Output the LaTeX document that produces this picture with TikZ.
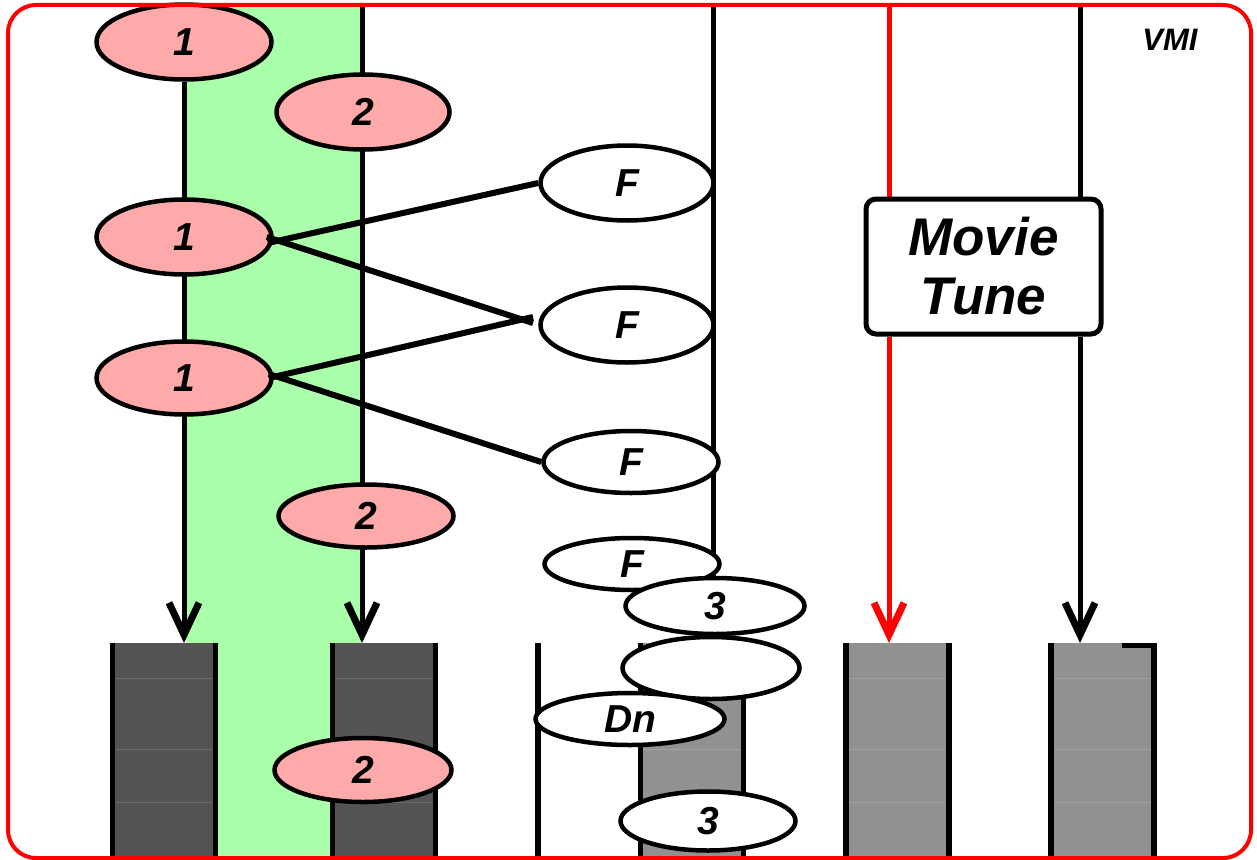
\documentclass[tikz,border=0pt]{standalone}
\usepackage{fontspec}
\setmainfont{Liberation Sans}
\usepackage{xcolor}
\usepackage{tikz}
\usetikzlibrary{positioning, arrows.meta, calc, shapes.geometric}

\definecolor{pinkfill}{HTML}{FFAAAA}
\definecolor{greenband}{HTML}{AAFFAA}
\definecolor{darkbar}{HTML}{545454}
\definecolor{lightbar}{HTML}{919191}

\pgfdeclarelayer{back}
\pgfdeclarelayer{mid}
\pgfsetlayers{back,mid,main}

\begin{document}
\begin{tikzpicture}[
    x=1pt, y=-1pt,
    labelfont/.style={font=\fontsize{39}{46}\selectfont\bfseries\itshape},
    pinknode/.style={ellipse, draw=black, line width=4.5pt, fill=pinkfill, inner sep=0pt, labelfont},
    whitenode/.style={ellipse, draw=black, line width=4.5pt, fill=white, inner sep=0pt, labelfont},
    barnode/.style={rectangle, inner sep=0pt, outer sep=0pt, minimum width=108pt, minimum height=216pt},
    boxnode/.style={rectangle, draw=black, line width=5pt, fill=white, rounded corners=10pt, minimum width=235pt, minimum height=135pt, align=center, font=\fontsize{53}{59}\selectfont\bfseries\itshape},
    edgeline/.style={line width=5.5pt},
    tickline/.style={draw=white, opacity=0.15, line width=1pt},
    flow/.style={line width=5pt, -{Straight Barb[length=32pt, width=30pt, line width=7pt]}},
    redflow/.style={flow, draw=red},
    link/.style={line width=6pt}
]
\useasboundingbox (0,0) rectangle (1257,859);

% green band and bars
\begin{pgfonlayer}{back}
\fill[greenband] (186,5) rectangle (361,859);
\node[barnode, fill=darkbar](barA) at (164,751){};
\node[barnode, fill=darkbar](barB) at (384,751){};
\node[barnode, fill=lightbar](barC) at (692,751){};
\node[barnode, fill=lightbar](barD) at (897.5,751){};
\node[barnode, fill=lightbar](barE) at (1102.5,751){};
\foreach \b in {barA,barB,barC,barD,barE}{
    \foreach \t in {35,106,159}
        \draw[tickline] ([yshift=-\t pt]\b.north west) -- ([yshift=-\t pt]\b.north east);
    \draw[edgeline] ([xshift=2.5pt]\b.north west) -- ([xshift=2.5pt]\b.south west);
    \draw[edgeline] ([xshift=-2.5pt]\b.north east) -- ([xshift=-2.5pt]\b.south east);
}
\draw[edgeline] (1122,645.5) -- ([yshift=-2.5pt]barE.north east);
\draw[edgeline] (538,643) -- (538,859);
\end{pgfonlayer}

% ellipses
\node[pinknode, minimum width=175pt, minimum height=75pt](one1) at (184,42){1};
\node[pinknode, minimum width=173pt, minimum height=75pt](two1) at (363,112){2};
\node[pinknode, minimum width=175pt, minimum height=75pt](one2) at (184,237){1};
\node[pinknode, minimum width=175pt, minimum height=73pt](one3) at (184,378){1};
\node[pinknode, minimum width=175pt, minimum height=63pt](two2) at (366,516){2};
\node[pinknode, minimum width=177pt, minimum height=64pt](two3) at (363,770){2};

\node[whitenode, minimum width=173pt, minimum height=75pt](eff1) at (627,183){F};
\node[whitenode, minimum width=173pt, minimum height=75pt](eff2) at (627,325){F};
\node[whitenode, minimum width=175pt, minimum height=62pt](eff3) at (631,462){F};
\node[whitenode, minimum width=175pt, minimum height=52pt](eff4) at (632,564){F};
\node[whitenode, minimum width=179pt, minimum height=56pt](three1) at (715,606){3};
\node[whitenode, minimum width=177pt, minimum height=62pt](blank) at (711,668){};
\node[whitenode, minimum width=189pt, minimum height=52pt](dn) at (630,719){Dn};
\node[whitenode, minimum width=175pt, minimum height=59pt](three2) at (708,821){3};

\node[boxnode](tune) at (983.5,266.5){Movie\\Tune};
\node[font=\fontsize{31}{36}\selectfont\bfseries\itshape](vmi) at (1170,40){VMI};

% vertical lines
\coordinate (topB) at (362,5);
\coordinate (topC) at (713,5);
\coordinate (topR) at (889,5);
\coordinate (topK) at (1080,5);
\begin{pgfonlayer}{mid}
\draw[flow] (one1) -- (one1 |- barA.north);
\draw[flow] (topB) -- (topB |- barB.north);
\draw[line width=5pt] (topC) -- (topC |- three1.north);
\draw[line width=5pt, red] (topR) -- (topR |- tune.north);
\draw[redflow] (topR |- tune.south) -- (topR |- barD.north);
\draw[line width=5pt] (topK) -- (topK |- tune.north);
\draw[flow] (topK |- tune.south) -- (topK |- barE.north);
\end{pgfonlayer}

% links to F
\coordinate (fhub) at (533,320);
\draw[link] ([shift={(-6pt,-6pt)}]one2.east) -- (eff1.west);
\draw[link] ([xshift=-7pt]one2.east) -- ([yshift=-3pt]fhub);
\draw[link] ([xshift=-5pt]one3.east) -- ([yshift=3pt]fhub);
\draw[link] ([shift={(-5pt,4pt)}]one3.east) -- (eff3.west);

\draw[red, line width=4pt, rounded corners=28pt] (8,5) rectangle (1251,858);
\end{tikzpicture}
\end{document}
